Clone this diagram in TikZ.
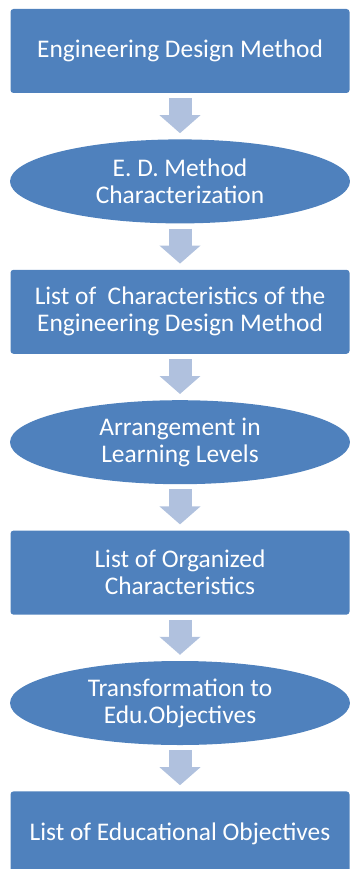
\documentclass[tikz,border=0pt]{standalone}
\usepackage{fontspec}
\setmainfont{Carlito}
\usetikzlibrary{positioning,shapes.geometric,arrows.meta}
\definecolor{boxblue}{RGB}{79,129,189}
\definecolor{arrowblue}{RGB}{176,193,222}
\begin{document}
\begin{tikzpicture}[x=1pt,y=1pt,font=\fontsize{25.4}{27}\selectfont,node distance=46pt,
	stepbox/.style={rectangle,rounded corners=3pt,fill=boxblue,text=white,minimum width=339pt,minimum height=84pt,align=center,inner sep=0pt},
	stepoval/.style={ellipse,fill=boxblue,text=white,minimum width=340pt,minimum height=84pt,align=center,inner sep=0pt},
	flow/.style={arrowblue,line width=23pt,-{Triangle[width=40pt,length=18pt]},shorten <=5pt,shorten >=6pt}]
	\useasboundingbox (0,0) rectangle (350,-869);
	%%% boxes and ovals
	\node[stepbox] (design) at (180,-51) {Engineering Design Method};
	\node[stepoval,below=of design] (charact) {E. D. Method\\Characterization};
	\node[stepbox,below=of charact] (list) {List of\ \ Characteristics of the\\Engineering Design Method};
	\node[stepoval,below=of list] (arrange) {Arrangement in\\Learning Levels};
	\node[stepbox,below=of arrange] (organized) {List of Organized\\Characteristics};
	\node[stepoval,below=of organized] (transform) {Transformation to\\Edu.Objectives};
	\node[stepbox,below=of transform] (objectives) {List of Educational Objectives};
	%%% arrows
	\draw[flow] (design) -- (charact);
	\draw[flow] (charact) -- (list);
	\draw[flow] (list) -- (arrange);
	\draw[flow] (arrange) -- (organized);
	\draw[flow] (organized) -- (transform);
	\draw[flow] (transform) -- (objectives);
\end{tikzpicture}
\end{document}
